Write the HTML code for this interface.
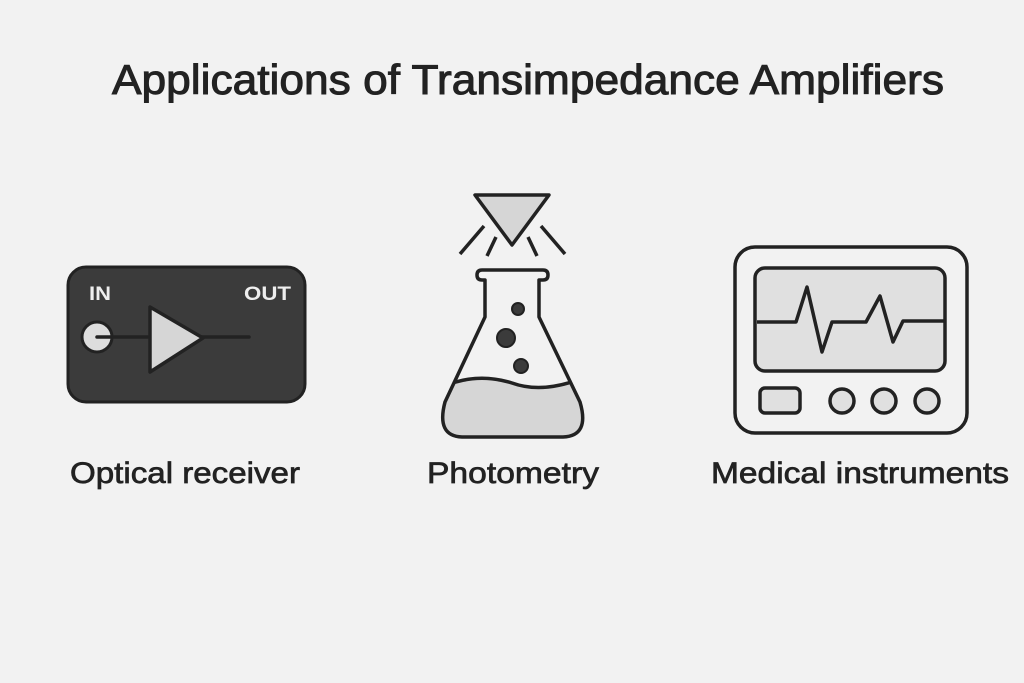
<!DOCTYPE html>
<html><head><meta charset="utf-8"><style>
html,body{margin:0;padding:0;background:#f2f2f2;}
svg{display:block;}
text{font-family:"Liberation Sans",sans-serif;}
</style></head><body>
<svg width="1024" height="683" viewBox="0 0 1024 683" xmlns="http://www.w3.org/2000/svg">
<defs>
<clipPath id="fl"><path d="M485,280 L485,317 L445,402 Q436,436 462,437 L563,437 Q590,436 580,402 L539,317 L539,280 Z"/></clipPath>
</defs>
<rect width="1024" height="683" fill="#f2f2f2"/>
<text x="112" y="94" font-size="42" fill="#222" stroke="#222" stroke-width="1" textLength="832" lengthAdjust="spacingAndGlyphs">Applications of Transimpedance Amplifiers</text>

<!-- Optical receiver -->
<rect x="68" y="267" width="237" height="135" rx="18" fill="#3b3b3b" stroke="#222" stroke-width="3"/>
<text x="89" y="300" font-size="19" font-weight="bold" fill="#eee" textLength="22" lengthAdjust="spacingAndGlyphs">IN</text>
<text x="244" y="300" font-size="19" font-weight="bold" fill="#eee" textLength="47" lengthAdjust="spacingAndGlyphs">OUT</text>
<circle cx="97" cy="337" r="15" fill="#ddd" stroke="#222" stroke-width="3"/>
<line x1="97" y1="337" x2="249" y2="337" stroke="#222" stroke-width="3.5" stroke-linecap="round"/>
<polygon points="150,307 203,338 150,372" fill="#d6d6d6" stroke="#222" stroke-width="3.5" stroke-linejoin="round"/>
<text x="70" y="483" font-size="30" fill="#222" stroke="#222" stroke-width="0.7" textLength="230" lengthAdjust="spacingAndGlyphs">Optical receiver</text>

<!-- Photometry -->
<polygon points="475,195 549,195 512,245" fill="#d6d6d6" stroke="#222" stroke-width="3.5" stroke-linejoin="round"/>
<g stroke="#222" stroke-width="3.5">
<line x1="460" y1="254" x2="484" y2="226"/>
<line x1="487" y1="256" x2="496" y2="237"/>
<line x1="537" y1="256" x2="528" y2="237"/>
<line x1="565" y1="254" x2="541" y2="226"/>
</g>
<g clip-path="url(#fl)">
<path d="M430,393 Q470,370 512,383 Q545,395 590,375 L590,450 L430,450 Z" fill="#d6d6d6"/>
<path d="M430,393 Q470,370 512,383 Q545,395 590,375" fill="none" stroke="#222" stroke-width="3.5"/>
</g>
<path d="M485,280 L485,317 L445,402 Q436,436 462,437 L563,437 Q590,436 580,402 L539,317 L539,280 L543,280 Q548,280 548,275 Q548,270 543,270 L482,270 Q477,270 477,275 Q477,280 482,280 Z" fill="none" stroke="#222" stroke-width="3.5" stroke-linejoin="round"/>
<circle cx="518" cy="309" r="6" fill="#3b3b3b" stroke="#222" stroke-width="2"/>
<circle cx="506" cy="338" r="9" fill="#3b3b3b" stroke="#222" stroke-width="2"/>
<circle cx="521" cy="366" r="7" fill="#3b3b3b" stroke="#222" stroke-width="2"/>
<text x="427" y="483" font-size="30" fill="#222" stroke="#222" stroke-width="0.7" textLength="172" lengthAdjust="spacingAndGlyphs">Photometry</text>

<!-- Medical -->
<rect x="735" y="247" width="232" height="186" rx="20" fill="#f2f2f2" stroke="#222" stroke-width="3.5"/>
<rect x="755" y="268" width="190" height="103" rx="10" fill="#e0e0e0" stroke="#222" stroke-width="3.5"/>
<polyline points="757,322 796,322 807,287 822,352 832,322 866,322 880,296 893,342 903,321 945,321" fill="none" stroke="#222" stroke-width="3.5" stroke-linejoin="round"/>
<rect x="760" y="388" width="40" height="25" rx="5" fill="#e0e0e0" stroke="#222" stroke-width="3.5"/>
<circle cx="842" cy="401" r="12" fill="#e0e0e0" stroke="#222" stroke-width="3.5"/>
<circle cx="884" cy="401" r="12" fill="#e0e0e0" stroke="#222" stroke-width="3.5"/>
<circle cx="927" cy="401" r="12" fill="#e0e0e0" stroke="#222" stroke-width="3.5"/>
<text x="711" y="483" font-size="30" fill="#222" stroke="#222" stroke-width="0.7" textLength="298" lengthAdjust="spacingAndGlyphs">Medical instruments</text>
</svg>
</body></html>
